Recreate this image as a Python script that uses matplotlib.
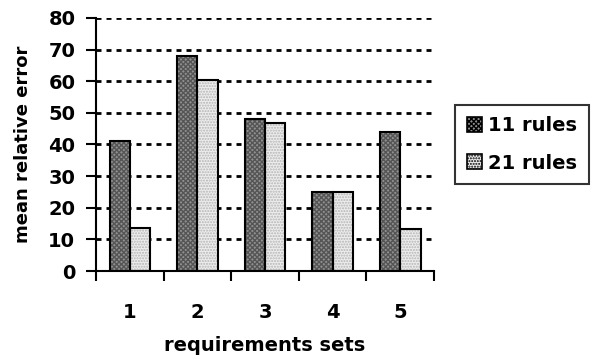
import matplotlib
matplotlib.use("Agg")
import matplotlib.pyplot as plt
import numpy as np
from matplotlib.patches import Patch

categories = ["1", "2", "3", "4", "5"]
rules11 = [41, 68, 48, 25, 44]
rules21 = [13.7, 60.5, 46.7, 25, 13.2]
series_names = ["11 rules", "21 rules"]
yticks = [0, 10, 20, 30, 40, 50, 60, 70, 80]

plt.rcParams['font.family'] = ['DejaVu Sans']
plt.rcParams['font.weight'] = 'bold'

fig = plt.figure(figsize=(5.97, 3.58), dpi=100)
ax = fig.add_axes([0.161, 0.243, 0.566, 0.707])

x = np.arange(len(categories))
w = 0.3
colors = ['#909090', '#ededed']
hatchc = ['#555555', '#b4b4b4']
hatches = ['xxxxxxx', '......']
for i, (vals, name) in enumerate(zip([rules11, rules21], series_names)):
    pos = x + (i - 0.5) * w
    ax.bar(pos, vals, w, color=colors[i], edgecolor='none', zorder=2)
    ax.bar(pos, vals, w, color='none', edgecolor=hatchc[i], hatch=hatches[i], linewidth=0, zorder=3)
    ax.bar(pos, vals, w, color='none', edgecolor='black', linewidth=1.5, zorder=4, label=name)

ax.set_xlim(-0.5, len(categories) - 0.5)
ax.set_ylim(0, 80)
ax.set_yticks(yticks)
ax.set_yticklabels([str(t) for t in yticks], fontsize=14, fontweight='bold')
ax.set_xticks(x)
ax.set_xticklabels(categories, fontsize=14, fontweight='bold')
ax.set_xticks(np.arange(-0.5, len(categories)), minor=True)
ax.tick_params(axis='x', which='major', length=0, pad=23)
ax.tick_params(axis='x', which='minor', length=7, width=1.5, direction='out')
ax.tick_params(axis='y', length=7, width=1.5, direction='out', pad=8)

for s in ['top', 'right']:
    ax.spines[s].set_visible(False)
for s in ['left', 'bottom']:
    ax.spines[s].set_linewidth(1.5)

for t in yticks[1:]:
    ax.axhline(t, color='black', linestyle=(0, (1.8, 1.8)), linewidth=2.0, zorder=1)

ax.set_ylabel("mean relative error", fontsize=13, fontweight='bold', labelpad=12)
ax.set_xlabel("requirements sets", fontsize=14, fontweight='bold', labelpad=10)

handles = [Patch(facecolor=colors[i], edgecolor='black', hatch=hatches[i], linewidth=1.2) for i in range(2)]
leg = ax.legend(handles, series_names, loc='center left', bbox_to_anchor=(1.062, 0.5),
                frameon=True, fancybox=False, edgecolor='black', fontsize=14,
                handlelength=0.8, handleheight=0.8, handletextpad=0.3, borderpad=0.6,
                labelspacing=0.95, borderaxespad=0)
leg.get_frame().set_linewidth(1.5)
for t in leg.get_texts():
    t.set_fontweight('bold')

fig.savefig("out.png", dpi=100)
